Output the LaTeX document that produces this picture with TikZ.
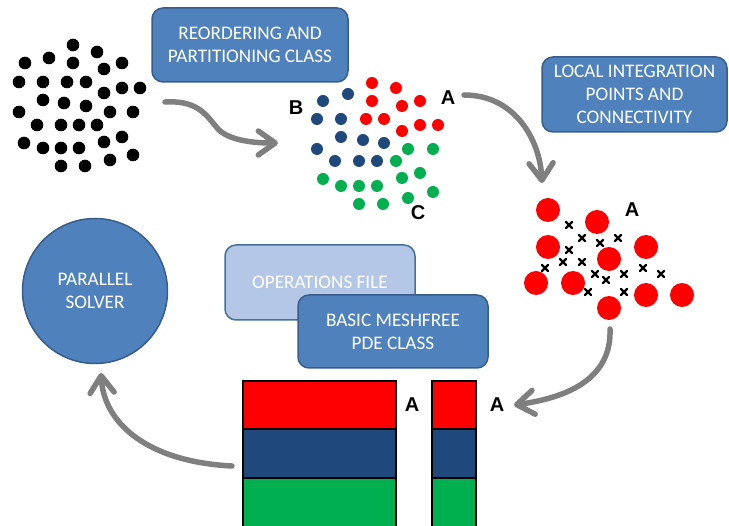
\documentclass[tikz,border=0pt]{standalone}
\usepackage{fontspec}
\setmainfont{Carlito}
\newfontfamily\lblfont{Liberation Sans}
\usetikzlibrary{arrows.meta}
\definecolor{boxblue}{HTML}{4F81BD}
\definecolor{boxedge}{HTML}{385D8A}
\definecolor{lightbox}{HTML}{B4C7E7}
\definecolor{lightedge}{HTML}{41719C}
\definecolor{ptred}{HTML}{FF0000}
\definecolor{ptblue}{HTML}{1F497D}
\definecolor{ptgreen}{HTML}{00B050}
\definecolor{arrgray}{HTML}{7F7F7F}
\tikzset{
  bluebox/.style={draw=boxedge, line width=1.5pt, fill=boxblue, rounded corners=11pt,
    text=white, align=center, inner sep=0pt, font=\fontsize{19.2}{23}\selectfont},
  lightbluebox/.style={bluebox, fill=lightbox, draw=lightedge},
  lbl/.style={font=\lblfont\bfseries\fontsize{20}{22}\selectfont, inner sep=0pt},
  flowarrow/.style={draw=arrgray, line width=5.5pt, line cap=round,
    -{Straight Barb[length=17pt, width=24pt, line width=5.5pt, round]}},
  barpart/.style={draw=black, line width=2pt},
  crossmark/.style={line width=2.2pt, line cap=round}
}
\begin{document}
\begin{tikzpicture}[x=1pt,y=-1pt]
\useasboundingbox (0,0) rectangle (729,526);
% black point cloud
\foreach \p in {(73,45),(97,52),(49,58),(25,63),(73,63),(104,69),(122,63),
  (19,82),(43,82),(67,82),(86,82),(122,88),(140,88),(104,93),
  (43,100),(64,103),(86,106),(19,112),(110,112),(133,112),
  (37,125),(61,125),(79,125),(97,125),
  (24,143),(43,148),(61,148),(79,148),(104,142),(122,137),
  (133,155),(110,160),(61,166),(85,166)}
  \fill[black] \p circle[radius=6.3pt];
% partitioned cloud
\foreach \p in {(372,83),(396,88),(372,101),(402,106),(420,101),(366,119),(384,119),(402,131),(420,125),(438,125)}
  \fill[ptred] \p circle[radius=6pt];
\foreach \p in {(323,101),(348,94),(317,119),(341,119),(341,137),(363,140),(384,143),(317,149),(335,161),(359,161),(377,161)}
  \fill[ptblue] \p circle[radius=6pt];
\foreach \p in {(408,149),(433,149),(396,161),(323,179),(341,186),(359,186),(377,186),(402,178),(420,173),(433,192),(408,198),(359,204),(383,204)}
  \fill[ptgreen] \p circle[radius=6pt];
\node[lbl] (lB) at (296,108) {B};
\node[lbl] (lA1) at (448,98) {A};
\node[lbl] (lC) at (418,213) {C};
% local integration points
\foreach \p in {(548,210),(597,222),(548,247),(646,247),(609,259),(536,283),(573,283),(646,295),(682,295),(609,308)}
  \fill[ptred] \p circle[radius=12pt];
\foreach \x/\y in {569/225,582/238,569/250,600/243,618/238,563/262,582/262,545/268,595/274,606/280,624/274,643/268,661/274,588/292,624/292}
  \draw[crossmark] (\x-3.2,\y-3.2) -- (\x+3.2,\y+3.2) (\x-3.2,\y+3.2) -- (\x+3.2,\y-3.2);
\node[lbl] (lA2) at (632,210) {A};
% boxes
\node[bluebox, minimum width=196pt, minimum height=74pt] (reorder) at (250,45) {REORDERING AND\\PARTITIONING CLASS};
\node[bluebox, minimum width=185pt, minimum height=75pt] (local) at (634.5,94.5) {LOCAL INTEGRATION\\POINTS AND\\CONNECTIVITY};
\node[lightbluebox, minimum width=190pt, minimum height=75pt] (ops) at (320,282.5) {OPERATIONS FILE};
\node[bluebox, minimum width=190pt, minimum height=73pt] (pde) at (393,331.5) {BASIC MESHFREE\\PDE CLASS};
\node[bluebox, circle, minimum size=145pt] (solver) at (95,291) {PARALLEL\\SOLVER};
% bars
\begin{scope}
\clip (0,0) rectangle (729,526);
\fill[ptred] (243,381) rectangle (396,429);
\fill[ptblue] (243,429) rectangle (396,478);
\fill[ptgreen] (243,478) rectangle (396,540);
\draw[barpart] (243,540) -- (243,381) -- (396,381) -- (396,540);
\draw[barpart] (243,429) -- (396,429) (243,478) -- (396,478);
\fill[ptred] (432,381) rectangle (476,429);
\fill[ptblue] (432,429) rectangle (476,478);
\fill[ptgreen] (432,478) rectangle (476,540);
\draw[barpart] (432,540) -- (432,381) -- (476,381) -- (476,540);
\draw[barpart] (432,429) -- (476,429) (432,478) -- (476,478);
\end{scope}
\node[lbl] (lA3) at (412,405) {A};
\node[lbl] (lA4) at (497,405) {A};
% arrows
\coordinate (a1s) at (165,102);
\coordinate (a1m) at (219,130);
\coordinate (a1e) at (278,143);
\coordinate (a2s) at (464,95);
\coordinate (a2e) at (542,183);
\coordinate (a3s) at (610,329);
\coordinate (a3e) at (514,405);
\coordinate (a4s) at (232,466);
\coordinate (a4e) at (101,373);
\draw[flowarrow] (a1s) .. controls (200,100) and (207,117) .. (a1m) .. controls (231,141) and (255,143) .. (a1e);
\draw[flowarrow] (a2s) .. controls (515,95) and (540,140) .. (a2e);
\draw[flowarrow] (a3s) .. controls (612,380) and (565,398) .. (a3e);
\draw[flowarrow] (a4s) .. controls (150,462) and (104,425) .. (a4e);
\end{tikzpicture}
\end{document}
